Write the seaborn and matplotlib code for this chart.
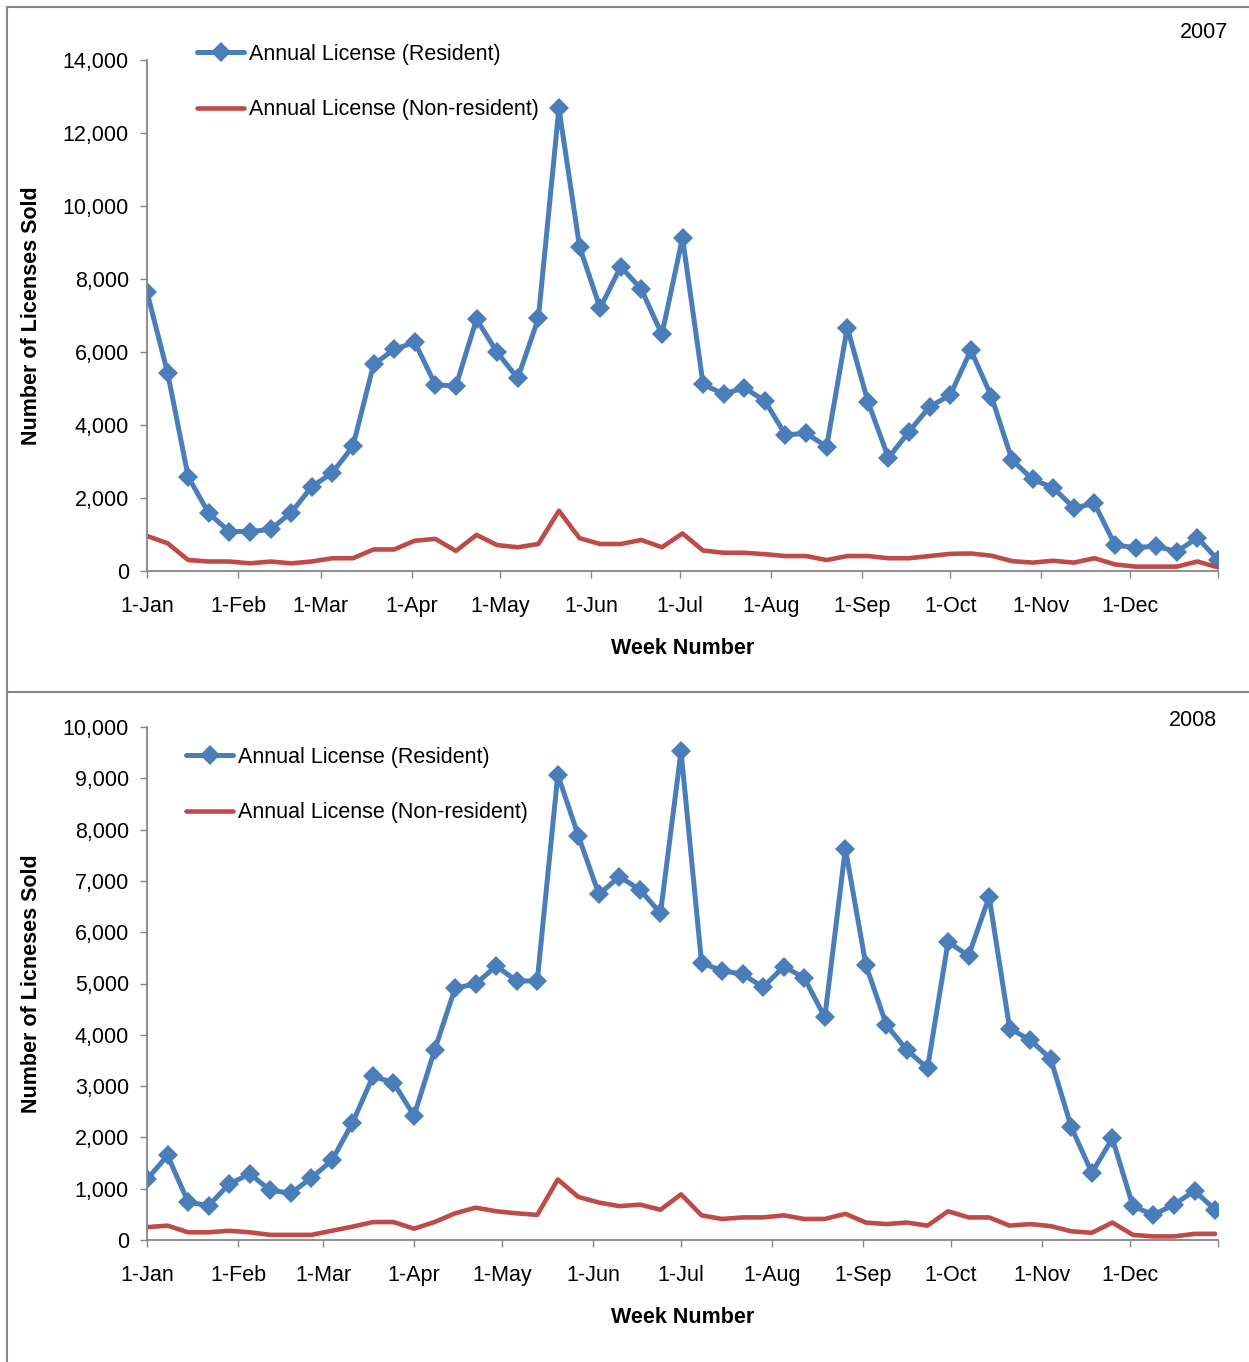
import numpy as np
import pandas as pd
import matplotlib
matplotlib.use('Agg')
import matplotlib.pyplot as plt
import matplotlib.dates as mdates
from matplotlib.ticker import FuncFormatter
from matplotlib.lines import Line2D
import seaborn as sns

sns.set_style('white')
plt.rcParams['font.family'] = ['Liberation Sans', 'DejaVu Sans']
plt.rcParams['text.color'] = 'black'
plt.rcParams['axes.labelcolor'] = 'black'

# ---------------- data ----------------
series_names = ['Annual License (Resident)', 'Annual License (Non-resident)']

res_2007 = [7640, 5430, 2580, 1580, 1080, 1080, 1140, 1600, 2310, 2690,
            3420, 5660, 6070, 6270, 5100, 5070, 6900, 5990, 5280, 6920,
            12680, 8890, 7200, 8340, 7720, 6480, 9130, 5110, 4850, 5020,
            4660, 3730, 3770, 3410, 6670, 4640, 3100, 3820, 4500, 4820,
            6050, 4780, 3040, 2510, 2280, 1730, 1850, 710, 640, 680,
            530, 910, 300]
non_2007 = [960, 760, 300, 260, 260, 210, 260, 210, 260, 350,
            350, 590, 590, 830, 880, 550, 990, 710, 650, 740,
            1650, 900, 740, 740, 850, 650, 1030, 560, 500, 500,
            460, 410, 410, 300, 410, 410, 350, 350, 410, 470,
            480, 420, 270, 230, 280, 230, 350, 180, 120, 120,
            120, 260, 100]

res_2008 = [1180, 1650, 740, 670, 1090, 1290, 970, 910, 1210, 1550,
            2280, 3190, 3070, 2420, 3700, 4910, 4990, 5340, 5050, 5050,
            9070, 7880, 6740, 7080, 6830, 6370, 9530, 5400, 5250, 5180,
            4930, 5330, 5110, 4340, 7630, 5360, 4190, 3700, 3350, 5810,
            5540, 6690, 4120, 3900, 3530, 2200, 1310, 1980, 660, 490,
            690, 960, 590]
non_2008 = [250, 280, 150, 150, 180, 150, 100, 100, 100, 180,
            260, 350, 350, 220, 350, 520, 630, 560, 520, 490,
            1180, 840, 730, 660, 690, 590, 890, 480, 410, 440,
            440, 480, 410, 410, 510, 340, 310, 340, 280, 560,
            440, 440, 280, 310, 270, 170, 140, 340, 100, 70,
            70, 120, 120]

BLUE = '#4A7EBB'
RED = '#BE4B48'
GRAY = '#868686'
FS = 15.5

W, H = 1249, 1362
fig = plt.figure(figsize=(W / 100, H / 100), dpi=100)
fig.patch.set_facecolor('white')


def axrect(l, t, r, b):
    return [l / W, 1 - b / H, (r - l) / W, (b - t) / H]


def month_fmt(x, pos):
    d = mdates.num2date(x)
    return f"{d.day}-{d.strftime('%b')}"


def draw(ax, year, res, non, ymax, ystep, ylabel, leg_anchor):
    dates = pd.date_range(f'{year}-01-01', periods=len(res), freq='7D')
    df = pd.DataFrame({'date': dates, 'res': res, 'non': non})
    sns.lineplot(data=df, x='date', y='res', ax=ax, color=BLUE, lw=3.6,
                 marker='D', markersize=9.8, markeredgewidth=0,
                 label=series_names[0])
    sns.lineplot(data=df, x='date', y='non', ax=ax, color=RED, lw=3.3,
                 label=series_names[1])
    start = pd.Timestamp(f'{year}-01-01')
    end = pd.Timestamp(f'{year}-12-31')
    ax.set_xlim(mdates.date2num(start), mdates.date2num(end))
    months = pd.date_range(start, periods=12, freq='MS')
    ax.set_xticks([mdates.date2num(m) for m in months])
    ax.set_xticks([mdates.date2num(end)], minor=True)
    ax.xaxis.set_major_formatter(FuncFormatter(month_fmt))
    ax.set_ylim(0, ymax)
    ax.set_yticks(np.arange(0, ymax + 1, ystep))
    ax.yaxis.set_major_formatter(FuncFormatter(lambda v, p: f'{v:,.0f}'))
    ax.tick_params(axis='both', which='both', direction='out', length=5,
                   width=1, color=GRAY, labelsize=FS, labelcolor='black',
                   bottom=True, left=True)
    ax.tick_params(axis='x', which='both', pad=13)
    ax.tick_params(axis='y', pad=8)
    for s in ['top', 'right']:
        ax.spines[s].set_visible(False)
    for s in ['left', 'bottom']:
        ax.spines[s].set_color(GRAY)
        ax.spines[s].set_linewidth(1.3)
    ax.set_xlabel('Week Number', fontsize=FS, fontweight='bold', labelpad=15,
                  color='black')
    ax.set_ylabel(ylabel, fontsize=FS, fontweight='bold', color='black')
    ax.yaxis.set_label_coords(-0.098, 0.5)
    ax.legend(loc='upper left', bbox_to_anchor=leg_anchor, frameon=False,
              fontsize=FS, handlelength=2.2, handletextpad=0.2,
              labelspacing=1.6, borderaxespad=0, borderpad=0, numpoints=1)


ax1 = fig.add_axes(axrect(147, 60, 1218, 571))
ax2 = fig.add_axes(axrect(147, 727, 1218, 1240))

draw(ax1, 2007, res_2007, non_2007, 14000, 2000, 'Number of Licenses Sold',
     ((197 - 147) / 1071, (571 - 44) / 511))
draw(ax2, 2008, res_2008, non_2008, 10000, 1000, 'Number of Licneses Sold',
     ((186 - 147) / 1071, (1240 - 747) / 513))

fig.text(1228 / W, 1 - 32 / H, '2007', ha='right', va='center', fontsize=FS,
         color='black')
fig.text(1217 / W, 1 - 720 / H, '2008', ha='right', va='center', fontsize=FS,
         color='black')

# chart borders
fig.add_artist(Line2D([7 / W, 1], [1 - 7 / H, 1 - 7 / H], transform=fig.transFigure, color=GRAY, lw=1.5))
fig.add_artist(Line2D([7 / W, 7 / W], [0, 1 - 7 / H], transform=fig.transFigure, color=GRAY, lw=1.5))
fig.add_artist(Line2D([7 / W, 1], [1 - 692 / H, 1 - 692 / H], transform=fig.transFigure, color=GRAY, lw=1.5))

fig.savefig('out.png', dpi=100, facecolor='white')
